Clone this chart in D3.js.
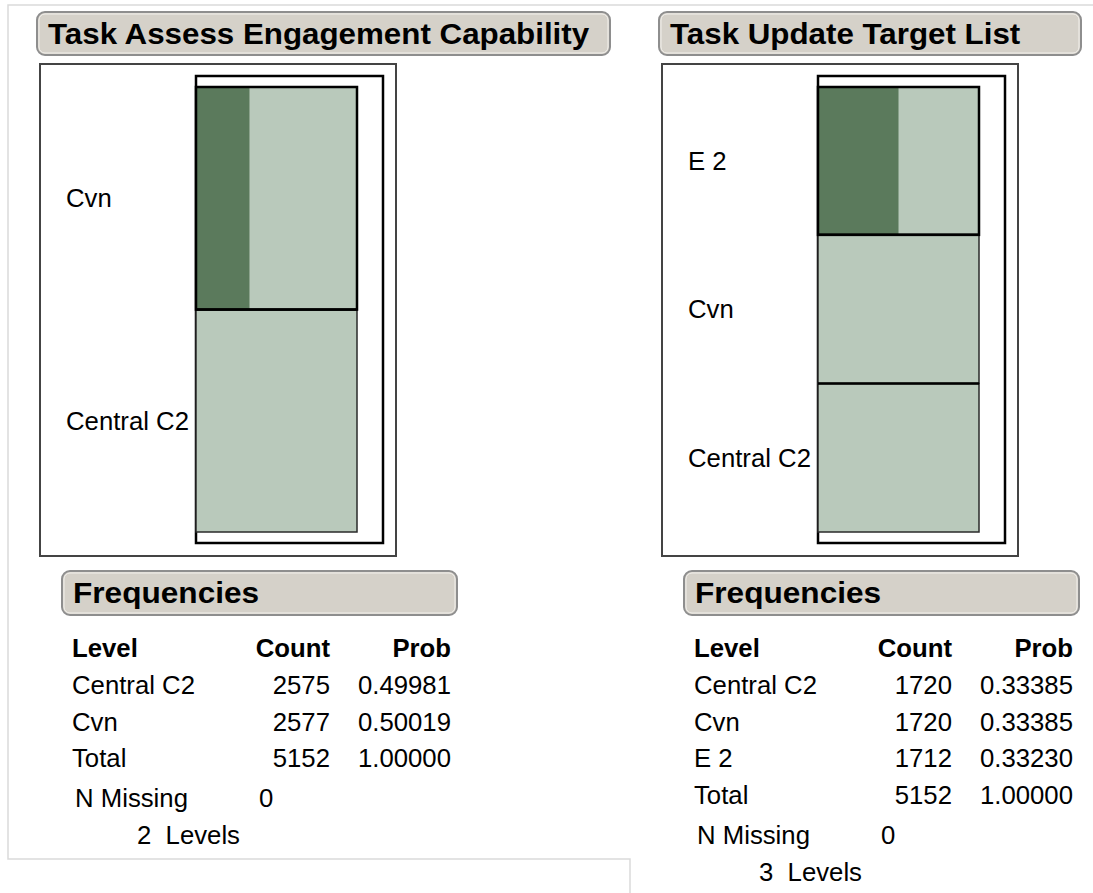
<!DOCTYPE html>
<html>
<head>
<meta charset="utf-8">
<script src="https://cdn.jsdelivr.net/npm/d3@7"></script>
<style>
  body { margin: 0; background: #fff; }
  svg text { font-family: "Liberation Sans", Arial, sans-serif; fill: #000; }
</style>
</head>
<body>
<svg id="chart" width="1093" height="893"></svg>
<script>
// data (JMP distribution output, 856 rows selected)
const titles = ["Task Assess Engagement Capability", "Task Update Target List"];

const leftLevels = ["Central C2", "Cvn"];
const leftCounts = [2575, 2577];
const leftSelected = [0, 856];

const rightLevels = ["Central C2", "Cvn", "E 2"];
const rightCounts = [1720, 1720, 1712];
const rightSelected = [0, 0, 856];

const nMissing = [0, 0];

const colors = {
  bar: "#b9c9bb",
  selected: "#5b7a5c",
  header: "#d5d1c9",
  headerStroke: "#8e8e8e",
  pageLine: "#dadada",
};

const svg = d3.select("#chart");
svg.append("rect").attr("width", 1093).attr("height", 893).attr("fill", "#fff");

// faint outline of the report window
svg.append("path")
  .attr("d", "M1093,5 H8 V859 H630 V893")
  .attr("fill", "none")
  .attr("stroke", colors.pageLine)
  .attr("stroke-width", 1.5);

// JMP text renders a little wider than Liberation Sans, so stretch it horizontally
const addText = (g, x, y, str, size, sx, opts = {}) => {
  const t = g.append("text")
    .attr("transform", `translate(${x},${y}) scale(${sx},1)`)
    .style("font-size", `${size}px`)
    .attr("xml:space", "preserve")
    .text(str);
  if (opts.bold) t.style("font-weight", "bold");
  if (opts.anchor) t.attr("text-anchor", opts.anchor);
  return t;
};

const panels = [
  { x0: 0, titleWidth: 573, levels: leftLevels, counts: leftCounts, selected: leftSelected },
  { x0: 622, titleWidth: 422, levels: rightLevels, counts: rightCounts, selected: rightSelected },
];

// header "outline box" with rounded corners
const drawHeader = (g, x, y, w, h, label, sx) => {
  g.append("rect")
    .attr("x", x).attr("y", y).attr("width", w).attr("height", h)
    .attr("rx", 8).attr("ry", 8)
    .attr("fill", colors.header)
    .attr("stroke", colors.headerStroke)
    .attr("stroke-width", 2);
  g.append("rect")
    .attr("x", x + 2).attr("y", y + 2).attr("width", w - 4).attr("height", h - 4)
    .attr("rx", 6).attr("ry", 6)
    .attr("fill", "none")
    .attr("stroke", "#f2f0ec")
    .attr("stroke-width", 1);
  addText(g, x + 11, y + h / 2 + 10, label, 29, sx, { bold: true });
};

panels.forEach((p, i) => {
  const g = svg.append("g").attr("transform", `translate(${p.x0},0)`);

  drawHeader(g, 37, 12, p.titleWidth, 43, titles[i], 1.08);

  // plot frames
  g.append("rect")
    .attr("x", 40).attr("y", 64).attr("width", 356).attr("height", 492)
    .attr("fill", "#fff").attr("stroke", "#444").attr("stroke-width", 2);
  g.append("rect")
    .attr("x", 196).attr("y", 76).attr("width", 187).attr("height", 467)
    .attr("fill", "#fff").attr("stroke", "#000").attr("stroke-width", 2.5);

  const total = d3.sum(p.counts);
  let cum = 0;
  const stacked = p.counts.map((c, k) => {
    const d = { level: p.levels[k], count: c, sel: p.selected[k], y0: cum, y1: cum + c };
    cum += c;
    return d;
  });

  const yScale = d3.scaleLinear().domain([0, total]).range([532, 87]);
  const xScale = d3.scaleLinear().domain([0, 1]).range([196, 357]);

  const bars = g.selectAll("g.bar").data(stacked).enter().append("g").attr("class", "bar");

  bars.append("rect")
    .attr("x", xScale(0))
    .attr("y", (d) => yScale(d.y1))
    .attr("width", xScale(1) - xScale(0))
    .attr("height", (d) => yScale(d.y0) - yScale(d.y1))
    .attr("fill", colors.bar);

  bars.append("rect")
    .attr("x", xScale(0))
    .attr("y", (d) => yScale(d.y1))
    .attr("width", (d) => xScale(d.sel / d.count) - xScale(0))
    .attr("height", (d) => yScale(d.y0) - yScale(d.y1))
    .attr("fill", colors.selected);

  bars.append("rect")
    .attr("x", xScale(0))
    .attr("y", (d) => yScale(d.y1))
    .attr("width", xScale(1) - xScale(0))
    .attr("height", (d) => yScale(d.y0) - yScale(d.y1))
    .attr("fill", "none")
    .attr("stroke", (d) => (d.sel > 0 ? "#000" : "#2a2a2a"))
    .attr("stroke-width", (d) => (d.sel > 0 ? 2.5 : 1.5));

  // separators between stacked levels drawn a bit heavier, as in JMP
  g.selectAll("line.sep").data(stacked.slice(0, -1)).enter().append("line")
    .attr("class", "sep")
    .attr("x1", xScale(0)).attr("x2", xScale(1))
    .attr("y1", (d) => yScale(d.y1)).attr("y2", (d) => yScale(d.y1))
    .attr("stroke", "#000").attr("stroke-width", 2.5);

  // level labels
  stacked.forEach((d) => {
    addText(g, 66, (yScale(d.y0) + yScale(d.y1)) / 2 + 9, d.level, 25, 1.03);
  });

  // Frequencies table
  drawHeader(g, 62, 571, 395, 44, "Frequencies", 1.09);

  const row0 = 657;
  const rowH = 36.8;
  const colLevel = 72;
  const colCount = 330;
  const colProb = 451;
  const sx = 1.03;

  addText(g, colLevel, row0, "Level", 25, sx, { bold: true });
  addText(g, colCount, row0, "Count", 25, sx, { bold: true, anchor: "end" });
  addText(g, colProb, row0, "Prob", 25, sx, { bold: true, anchor: "end" });

  const rows = stacked.map((d) => ({ level: d.level, count: d.count, prob: (d.count / total).toFixed(5) }));
  rows.push({ level: "Total", count: total, prob: (1).toFixed(5) });

  rows.forEach((r, k) => {
    const y = row0 + rowH * (k + 1);
    addText(g, colLevel, y, r.level, 25, sx);
    addText(g, colCount, y, r.count, 25, sx, { anchor: "end" });
    addText(g, colProb, y, r.prob, 25, sx, { anchor: "end" });
  });

  const yMiss = row0 + rowH * (rows.length + 1) + 3;
  addText(g, colLevel + 3, yMiss, "N Missing", 25, sx);
  addText(g, 259, yMiss, nMissing[i], 25, sx);
  addText(g, 137, yMiss + 37, `${p.levels.length}  Levels`, 25, sx);
});
</script>
</body>
</html>
